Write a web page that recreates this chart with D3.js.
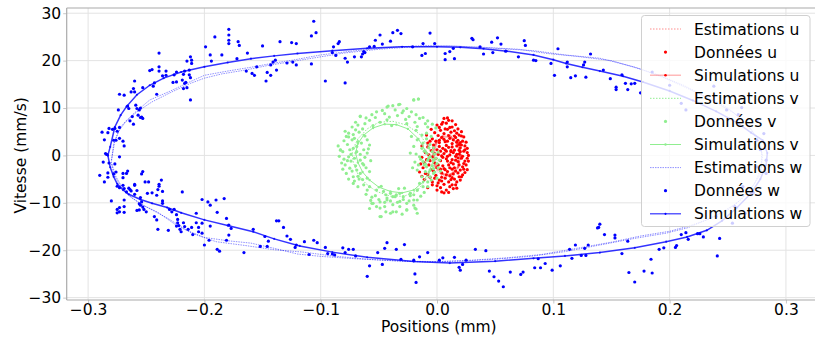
<!DOCTYPE html>
<html>
<head>
<meta charset="utf-8">
<script src="https://cdn.jsdelivr.net/npm/d3@7"></script>
<style>
  body { margin: 0; background: #fff; }
  svg { font-family: "DejaVu Sans", sans-serif; }
</style>
</head>
<body>
<div id="chart"></div>
<script>
// valeurs : [position (mm), vitesse (mm/s)]
const xTicks = [-0.3, -0.2, -0.1, 0.0, 0.1, 0.2, 0.3];
const yTicks = [-30, -20, -10, 0, 10, 20, 30];

const estU = [[0.021,0],[0.019,2.6],[0.013,4.3],[0.006,4.4],[-0.001,2.8],[-0.004,0.2],[-0.002,-2.6],[0.004,-4.3],[0.012,-4.4],[0.018,-2.7],[0.021,0]];
const simU = [[0.020,0],[0.018,2.4],[0.012,3.9],[0.005,4.0],[-0.001,2.5],[-0.003,0],[-0.001,-2.4],[0.005,-3.9],[0.012,-4.0],[0.018,-2.5],[0.020,0]];
const donU = [[0.006,7.8],[0.010,7.4],[0.013,7.3],[0.004,6.6],[0.013,6.0],[0.003,5.3],[0.019,4.3],[0.023,3.9],[0.000,6.4],[0.008,6.8],[0.016,6.5],[0.018,5.6],[0.009,5.5],[-0.002,4.8],[0.006,4.6],[0.012,4.9],[0.015,4.1],[0.021,5.0],[0.025,2.8],[0.027,0.0],[0.026,1.5],[0.024,-1.2],[0.022,3.0],[0.018,3.2],[0.011,3.6],[0.004,3.8],[-0.004,3.5],[-0.008,2.6],[-0.003,2.2],[0.002,2.7],[0.007,2.9],[0.013,2.5],[0.017,2.0],[0.020,1.6],[0.023,0.9],[0.019,0.3],[0.015,1.1],[0.010,1.7],[0.005,1.5],[0.000,1.2],[-0.005,1.0],[-0.010,0.6],[-0.013,-0.4],[-0.009,-0.9],[-0.004,-0.3],[0.001,0.2],[0.006,0.4],[0.011,0.1],[0.016,-0.2],[0.021,-0.6],[0.025,-2.0],[0.022,-2.4],[0.018,-1.3],[0.013,-0.9],[0.008,-0.7],[0.003,-1.1],[-0.002,-1.6],[-0.007,-2.0],[-0.012,-2.6],[-0.015,-3.5],[-0.010,-3.8],[-0.005,-3.0],[0.000,-2.6],[0.005,-2.2],[0.010,-2.0],[0.015,-2.6],[0.020,-3.1],[0.024,-3.6],[0.019,-4.5],[0.014,-3.9],[0.009,-3.4],[0.004,-3.7],[-0.001,-4.2],[-0.006,-4.6],[-0.011,-5.1],[-0.004,-5.6],[0.002,-5.2],[0.007,-4.8],[0.012,-5.1],[0.017,-5.6],[0.021,-4.5],[0.020,-5.2],[0.011,-6.6],[0.006,-6.1],[0.000,-6.4],[0.004,-7.7],[0.008,-7.3],[0.000,-7.3],[0.006,-7.9],[0.014,-7.0],[-0.008,-6.8],[0.016,-6.2],[0.009,-0.2],[0.014,0.6],[0.012,-1.5],[0.017,2.8],[0.008,2.1],[0.003,0.9],[-0.002,0.4],[0.021,2.2],[0.026,-0.6],[0.003,-2.9],[0.007,-3.0],[0.016,-3.3],[0.011,-4.3],[0.010,4.2],[0.014,3.3],[0.001,4.2],[-0.006,3.0],[0.019,1.1],[0.013,-2.9],[0.023,-2.9],[0.010,-5.6],[-0.003,-3.3],[0.005,-0.4],[0.018,-0.5],[-0.008,1.8],[0.015,5.2],[0.007,5.6],[0.001,-5.8],[0.024,2.0],[0.012,1.0],
  [0.002,3.2],[0.009,3.0],[0.016,3.8],[0.020,2.7],[0.024,1.2],[0.022,-0.2],[0.017,0.2],[0.012,0.8],[0.007,1.2],[0.002,1.9],[-0.003,1.6],[-0.007,0.1],[-0.011,-1.5],[-0.006,-1.1],[-0.001,-0.6],[0.004,-0.1],[0.009,-1.2],[0.014,-1.8],[0.019,-2.0],[0.023,-1.7],[0.027,-1.2],[0.026,0.6],[0.021,4.1],[0.017,4.7],[0.011,5.9],[0.005,7.0],[0.009,7.9],[0.002,5.9],[-0.005,5.5],[-0.009,4.3],[-0.013,2.0],[-0.014,-1.8],[-0.013,-4.4],[-0.008,-4.0],[-0.002,-4.8],[0.004,-4.6],[0.008,-4.1],[0.013,-4.7],[0.018,-3.7],[0.022,-4.1],[0.026,-3.0],[0.017,-6.9],[0.013,-6.2],[0.003,-6.8],[-0.004,-6.2],[0.010,-7.8],[0.004,-5.4],[0.015,-5.0],[0.006,-2.8],[0.001,-2.0],[0.011,-2.6],[0.016,-1.0],[0.020,0.8],[0.008,0.9],[0.013,1.8],[0.019,2.3],[0.006,3.4],[-0.001,3.0]];

const estV = [[-0.002,-0.5],[-0.008,2.0],[-0.015,4.5],[-0.026,6.4],[-0.038,7.2],[-0.050,7.0],[-0.060,5.6],[-0.068,3.5],[-0.073,1.0],[-0.072,-1.5],[-0.068,-4.0],[-0.061,-6.0],[-0.052,-7.6],[-0.040,-8.6],[-0.028,-8.6],[-0.017,-7.4],[-0.009,-5.0],[-0.004,-2.5],[-0.002,-0.5]];
const simV = [[-0.003,-1.0],[-0.010,1.0],[-0.016,3.5],[-0.025,5.6],[-0.035,6.5],[-0.045,6.6],[-0.055,5.8],[-0.063,4.3],[-0.068,2.5],[-0.070,0.5],[-0.068,-1.5],[-0.064,-3.5],[-0.058,-5.2],[-0.050,-6.7],[-0.040,-7.6],[-0.030,-7.9],[-0.020,-7.3],[-0.012,-5.6],[-0.007,-3.5],[-0.003,-1.0]];
const donV = [[-0.016,11.9],[-0.020,11.7],[-0.033,10.7],[-0.038,10.5],[-0.043,10.2],[-0.026,9.9],[-0.022,9.2],[-0.052,9.2],[-0.045,8.8],[-0.034,8.4],[-0.029,9.4],[-0.066,8.2],[-0.058,7.4],[-0.062,6.7],[-0.055,6.3],[-0.049,7.0],[-0.043,7.5],[-0.039,6.3],[-0.026,6.7],[-0.019,7.0],[-0.015,7.8],[-0.010,6.7],[-0.008,6.0],[-0.018,5.3],[-0.078,4.0],[-0.073,3.3],[-0.071,3.6],[-0.068,2.9],[-0.065,2.6],[-0.060,3.3],[-0.058,2.2],[-0.072,1.5],[-0.075,1.2],[-0.069,0.8],[-0.063,1.2],[-0.060,0.5],[-0.081,0.8],[-0.083,1.2],[-0.076,-0.3],[-0.071,-0.6],[-0.066,-1.0],[-0.079,-2.0],[-0.075,-2.7],[-0.069,-3.1],[-0.063,-2.0],[-0.078,-3.8],[-0.072,-4.5],[-0.066,-3.8],[-0.060,-4.8],[-0.058,-3.4],[-0.063,-6.2],[-0.058,-6.6],[-0.052,-7.3],[-0.046,-7.6],[-0.040,-8.0],[-0.035,-8.3],[-0.029,-8.7],[-0.023,-8.5],[-0.017,-7.3],[-0.015,-5.9],[-0.012,-6.6],[-0.055,-10.1],[-0.049,-11.1],[-0.045,-10.8],[-0.038,-10.4],[-0.032,-9.7],[-0.026,-10.1],[-0.020,-9.4],[-0.019,-11.1],[-0.049,-12.9],[-0.035,-11.9],[-0.026,-11.5],[-0.043,-9.0],[-0.036,-8.7],[-0.048,-12.9],[-0.058,-11.2],[-0.044,-11.9],[-0.017,-12.2],[-0.018,-11.3],[-0.006,-0.3],[-0.003,-1.0],[0.000,-1.7],[-0.009,-2.4],[-0.006,-3.1],[-0.012,-1.3],[-0.015,-0.3],[-0.010,-3.4],[-0.013,-4.5],[-0.006,-4.5],[-0.003,-3.8],[-0.017,-3.1],[-0.016,-2.0],[-0.009,0.5],[-0.013,1.5],[-0.012,2.6],[-0.017,3.3],[-0.020,1.9],[-0.023,0.5],[-0.009,4.7],[-0.005,4.0],[-0.013,4.3],[-0.017,6.1],[-0.022,4.0],[-0.020,11.7],[-0.016,11.9],[-0.032,10.8],[-0.042,10.4],[-0.066,8.3],[-0.076,3.9],[-0.083,1.1],[-0.072,-5.9],[-0.068,-6.6],[-0.060,-7.3],[-0.056,-10.1],[-0.052,-10.8],[-0.049,-9.8],[-0.043,-9.4],[-0.038,-8.7],[-0.032,-10.8],[-0.026,-11.5],[-0.020,-10.5],[-0.017,-9.4],[-0.038,-11.9],[-0.032,-8.0],[-0.023,-8.0],[-0.017,-7.3],[-0.070,5.4],[-0.074,-1.2],[-0.067,-5.0],[-0.004,-2.2],[-0.008,-1.0],[-0.002,0.3],[-0.011,-2.0],[-0.007,1.6],
  [-0.030,9.0],[-0.036,9.6],[-0.047,9.5],[-0.056,8.6],[-0.061,7.9],[-0.070,7.0],[-0.073,6.0],[-0.068,6.4],[-0.064,5.6],[-0.024,8.2],[-0.018,8.6],[-0.012,8.0],[-0.008,7.3],[-0.004,6.6],[-0.001,5.8],[-0.027,7.6],[-0.041,8.1],[-0.053,8.0],
  [-0.077,2.3],[-0.080,-0.8],[-0.082,-1.6],[-0.077,-1.1],[-0.074,0.2],[-0.079,5.1],[-0.076,4.7],[-0.072,4.4],[-0.067,4.9],[-0.062,4.1],[-0.066,0.2],[-0.062,-0.4],[-0.064,-1.7],[-0.070,-2.2],[-0.073,-3.3],[-0.076,-5.0],[-0.071,-5.4],[-0.068,-4.4],[-0.064,-5.1],[-0.081,-2.9],[-0.084,-0.2],[-0.085,2.0],[-0.080,3.1],[-0.069,1.9],[-0.059,1.4],[-0.057,-1.1],[-0.061,-2.6],
  [-0.061,-8.2],[-0.056,-8.8],[-0.050,-9.3],[-0.045,-9.9],[-0.040,-9.6],[-0.034,-9.9],[-0.029,-9.3],[-0.024,-9.6],[-0.020,-8.3],[-0.014,-8.6],[-0.011,-7.8],[-0.008,-6.6],[-0.044,-8.3],[-0.053,-8.5],[-0.057,-9.5],[-0.040,-12.2],[-0.030,-12.4],[-0.028,-6.9],[-0.033,-7.0],[-0.048,-6.5],
  [-0.004,0.8],[-0.001,-0.6],[0.002,-1.0],[0.001,-2.6],[-0.003,-2.8],[-0.007,-0.5],[-0.010,-1.8],[-0.002,-3.5],[0.003,-3.3],[-0.005,-5.2],[-0.008,-5.6],[0.000,-4.8],[-0.011,0.9],[-0.006,2.3],[-0.003,1.6],[0.001,0.7],[-0.009,3.5],[-0.014,-0.8],[-0.019,-1.4],[-0.021,-2.6],[-0.018,0.3]];

const estW = [[-0.280,-1.0],[-0.277,3.0],[-0.272,6.0],[-0.267,7.4],[-0.260,9.0],[-0.247,11.7],[-0.230,13.5],[-0.210,15.8],[-0.200,16.9],[-0.180,17.8],[-0.160,18.6],[-0.140,19.5],[-0.124,20.1],[-0.100,21.2],[-0.070,22.1],[-0.040,22.8],[-0.010,23.2],[0.020,23.0],[0.050,22.6],[0.083,22.1],[0.110,21.2],[0.140,20.5],[0.169,18.7],[0.190,17.0],[0.212,14.8],[0.230,12.5],[0.250,10.0],[0.265,7.0],[0.275,4.0],[0.280,0.0],[0.278,-4.0],[0.270,-7.0],[0.258,-10.0],[0.245,-12.0],[0.230,-13.8],[0.215,-15.3],[0.197,-16.4],[0.170,-17.5],[0.140,-18.9],[0.110,-20.3],[0.080,-21.3],[0.050,-21.9],[0.020,-22.3],[-0.010,-22.5],[-0.040,-22.2],[-0.070,-21.8],[-0.100,-21.3],[-0.120,-20.8],[-0.140,-19.6],[-0.160,-18.5],[-0.180,-18.0],[-0.200,-17.3],[-0.215,-15.8],[-0.232,-13.2],[-0.245,-11.5],[-0.255,-10.2],[-0.265,-8.5],[-0.272,-6.5],[-0.278,-4.0],[-0.280,-1.5],
  [-0.278,2.5],[-0.274,5.0],[-0.268,7.0],[-0.258,9.2],[-0.245,11.3],[-0.228,13.4],[-0.212,15.2],[-0.200,16.3],[-0.185,17.2],[-0.165,18.0],[-0.145,19.0],[-0.125,19.8],[-0.105,20.6],[-0.080,21.6],[-0.050,22.4],[-0.020,22.9],[0.010,23.1],[0.040,22.8],[0.070,22.4],[0.095,21.5],[0.120,20.9],[0.150,20.0],[0.175,18.2],[0.195,16.4],[0.215,14.2],[0.235,11.8],[0.255,9.0],[0.270,5.5],[0.279,1.5],[0.279,-2.5],[0.273,-6.0],[0.262,-9.2],[0.250,-11.5],[0.235,-13.3],[0.218,-14.8],[0.200,-16.0],[0.175,-17.0],[0.150,-18.3],[0.120,-19.6],[0.090,-20.9],[0.060,-21.6],[0.030,-22.1],[0.000,-22.4],[-0.030,-22.3],[-0.060,-21.9],[-0.090,-21.2],[-0.115,-20.4],[-0.140,-19.9],[-0.165,-19.0],[-0.190,-18.2],[-0.210,-16.5],[-0.225,-14.6],[-0.240,-12.0],[-0.252,-10.6],[-0.262,-9.0],[-0.270,-7.0],[-0.276,-4.5],[-0.280,-1.5]];

const simW = [[-0.283,0.0],[-0.281,1.8],[-0.277,6.0],[-0.272,8.5],[-0.267,10.3],[-0.258,12.8],[-0.247,14.8],[-0.235,16.3],[-0.220,17.6],[-0.200,18.7],[-0.180,19.6],[-0.160,20.4],[-0.140,21.0],[-0.120,21.5],[-0.090,22.1],[-0.060,22.6],[-0.030,22.9],[0.000,22.9],[0.020,22.8],[0.040,22.5],[0.060,22.0],[0.083,21.2],[0.100,20.2],[0.111,19.4],[0.125,18.6],[0.140,17.8],[0.160,16.7],[0.177,15.5],[0.200,13.6],[0.220,11.6],[0.240,9.3],[0.258,6.9],[0.270,4.8],[0.280,3.2],[0.284,0.5],[0.283,-2.0],[0.278,-5.0],[0.270,-8.0],[0.258,-11.0],[0.245,-13.8],[0.232,-15.8],[0.215,-17.2],[0.197,-18.2],[0.170,-19.5],[0.140,-20.5],[0.110,-21.2],[0.083,-21.7],[0.050,-22.3],[0.011,-22.7],[-0.020,-22.4],[-0.060,-21.5],[-0.090,-20.4],[-0.118,-19.1],[-0.140,-17.6],[-0.158,-16.1],[-0.180,-14.8],[-0.200,-13.6],[-0.220,-12.1],[-0.232,-11.0],[-0.245,-10.1],[-0.255,-9.3],[-0.265,-8.2],[-0.270,-7.3],[-0.275,-6.0],[-0.278,-4.5],[-0.281,-2.5],[-0.283,0.0]];

const donW = [[-0.179,26.6],[-0.179,25.4],[-0.179,24.3],[-0.179,23.6],[-0.191,25.0],[-0.199,22.9],[-0.195,21.2],[-0.194,19.9],[-0.185,21.2],[-0.172,20.4],[-0.171,24.0],[-0.170,23.2],[-0.163,21.6],[-0.164,17.8],[-0.159,17.3],[-0.157,16.9],[-0.155,18.7],[-0.150,23.1],[-0.147,15.7],[-0.146,17.5],[-0.143,16.9],[-0.143,19.1],[-0.141,19.7],[-0.139,20.1],[-0.138,18.0],[-0.135,24.0],[-0.129,19.5],[-0.125,23.8],[-0.121,23.6],[-0.124,19.7],[-0.121,19.1],
  [-0.212,11.7],[-0.212,16.4],[-0.215,14.3],[-0.218,14.1],[-0.217,15.2],[-0.216,15.4],[-0.213,17.0],[-0.213,18.0],[-0.211,19.4],[-0.211,20.1],[-0.215,19.9],[-0.212,20.8],[-0.224,17.6],[-0.224,15.5],[-0.227,15.4],[-0.219,15.9],[-0.218,17.1],[-0.217,17.8],[-0.226,17.0],[-0.233,16.9],[-0.233,17.8],[-0.236,16.8],[-0.239,18.7],[-0.239,21.6],[-0.239,17.8],[-0.241,12.9],[-0.243,15.3],[-0.245,18.1],[-0.247,17.9],[-0.244,14.6],[-0.253,14.3],[-0.254,8.1],[-0.253,7.8],[-0.255,8.0],[-0.257,8.5],[-0.255,10.0],[-0.259,10.6],[-0.256,9.6],[-0.258,9.9],[-0.260,15.7],[-0.261,14.1],[-0.260,13.4],[-0.263,13.4],[-0.266,10.4],[-0.265,9.9],[-0.262,8.2],[-0.261,6.6],[-0.264,7.3],[-0.269,12.7],[-0.273,12.9],[-0.274,9.6],[-0.277,5.7],[-0.273,5.9],[-0.275,5.1],[-0.279,5.5],[-0.282,5.7],[-0.283,4.8],[-0.288,4.9],[-0.278,3.2],[-0.276,3.2],[-0.273,3.6],[-0.270,3.0],[-0.269,2.0],[-0.286,3.3],[-0.285,0.4],[-0.284,0.2],[-0.282,-1.6],[-0.273,-0.3],[-0.287,-1.4],[-0.277,-1.8],
  [-0.290,-4.2],[-0.286,-5.6],[-0.283,-4.6],[-0.283,-3.7],[-0.278,-3.9],[-0.276,-3.5],[-0.270,-3.8],[-0.270,-4.7],[-0.267,-3.8],[-0.266,-3.3],[-0.275,-6.5],[-0.273,-6.8],[-0.270,-6.3],[-0.269,-7.0],[-0.265,-6.9],[-0.264,-7.2],[-0.267,-7.7],[-0.263,-7.5],[-0.260,-8.2],[-0.260,-6.1],[-0.260,-6.3],[-0.258,-7.4],[-0.255,-8.9],[-0.253,-3.4],[-0.254,-3.9],[-0.251,-5.6],[-0.248,-5.6],[-0.254,-9.8],[-0.256,-10.2],[-0.255,-10.5],[-0.280,-9.6],[-0.275,-11.4],[-0.273,-11.0],[-0.269,-12.0],[-0.269,-10.8],[-0.269,-9.4],[-0.273,-11.9],[-0.275,-12.1],[-0.258,-11.6],[-0.256,-11.5],[-0.253,-10.9],[-0.252,-11.4],[-0.250,-11.9],[-0.249,-8.0],[-0.245,-7.9],[-0.241,-8.4],[-0.240,-7.2],[-0.239,-6.5],[-0.239,-6.1],[-0.237,-5.2],[-0.236,-7.6],[-0.236,-9.6],[-0.236,-10.1],[-0.243,-12.9],[-0.241,-13.6],[-0.240,-15.6],[-0.231,-15.8],[-0.230,-11.4],[-0.228,-11.9],[-0.226,-11.4],[-0.224,-12.5],[-0.223,-13.5],[-0.223,-14.2],[-0.224,-14.9],[-0.222,-14.8],[-0.221,-15.6],[-0.220,-16.1],[-0.219,-7.7],[-0.218,-14.2],[-0.217,-15.0],[-0.214,-15.6],[-0.211,-15.2],[-0.210,-16.7],[-0.207,-12.2],[-0.207,-14.2],[-0.205,-15.2],[-0.205,-16.1],[-0.202,-14.3],[-0.202,-9.3],[-0.202,-16.4],[-0.200,-18.9],[-0.197,-9.8],[-0.196,-17.9],[-0.195,-10.5],[-0.195,-14.9],[-0.190,-9.4],[-0.189,-19.8],[-0.189,-12.0],[-0.187,-20.2],[-0.183,-9.1],[-0.181,-13.3],[-0.179,-14.7],[-0.179,-16.8],[-0.177,-15.4],[-0.181,-17.9],[-0.166,-20.5],[-0.158,-15.6],[-0.152,-19.2],[-0.148,-17.1],[-0.146,-19.2],[-0.145,-18.1],[-0.138,-13.8],[-0.136,-13.8],[-0.132,-15.2],[-0.129,-17.0],[-0.126,-17.7],[-0.121,-18.9],[-0.122,-19.4],
  [-0.106,28.3],[-0.108,25.2],[-0.104,25.9],[-0.108,19.3],[-0.096,15.7],[-0.079,15.3],[-0.089,22.9],[-0.090,21.7],[-0.087,21.1],[-0.085,23.6],[-0.084,24.0],[-0.079,20.5],[-0.077,19.7],[-0.071,20.8],[-0.065,20.8],[-0.063,21.9],[-0.064,21.4],[-0.062,21.7],[-0.058,22.9],[-0.054,23.0],[-0.053,24.3],[-0.049,25.4],[-0.047,23.5],[-0.040,24.1],[-0.038,25.9],[-0.034,26.4],[-0.031,25.7],[-0.021,22.9],[-0.013,21.1],[-0.010,21.5],[-0.012,23.6],[-0.006,25.8],[-0.002,23.6],[0.007,21.5],[0.011,21.9],[0.007,20.2],[0.015,20.4],[0.014,22.6],[0.030,24.7],[0.031,24.4],[0.037,22.9],[0.040,21.4],[0.047,23.9],[0.048,21.7],[0.052,24.8],[0.055,23.5],[0.059,22.0],[0.070,20.8],[0.075,24.2],[0.076,23.2],[0.083,20.1],[0.085,20.0],[0.098,19.4],[0.101,16.9],[0.104,22.5],[0.112,18.7],[0.112,19.7],[0.115,16.4],[0.119,16.8],[0.126,19.1],[0.127,19.7],[0.128,16.5],[0.132,21.4],
  [0.143,18.0],[0.149,16.2],[0.154,14.4],[0.154,13.9],[0.159,17.0],[0.162,15.2],[0.164,13.9],[0.167,15.1],[0.170,15.2],[0.175,13.2],[0.185,17.6],[0.200,14.8],[0.210,11.0],[0.214,9.6],[0.238,14.6],[0.249,9.6],[0.259,8.6],[0.262,10.1],[0.275,7.4],[0.281,4.6],[0.275,3.2],[0.278,1.2],[0.283,-1.0],[0.275,-2.4],[0.283,-3.8],[0.263,-6.6],[0.272,-7.9],[0.256,-10.8],[0.265,-12.2],[0.240,-12.9],[0.254,-14.3],[0.226,-16.5],
  [0.140,-14.5],[0.144,-16.7],[0.153,-16.8],[0.153,-17.4],[0.164,-18.1],[0.159,-20.7],[0.165,-24.7],[0.170,-26.7],[0.178,-24.4],[0.185,-24.8],[0.184,-21.9],[0.191,-19.8],[0.195,-19.5],[0.205,-19.4],[0.206,-19.0],[0.210,-16.7],[0.214,-16.3],[0.216,-17.7],[0.224,-16.5],[0.229,-17.2],[0.241,-21.2],[0.243,-17.5],
  [-0.114,-18.2],[-0.106,-17.9],[-0.103,-18.4],[-0.110,-20.9],[-0.096,-19.4],[-0.094,-20.7],[-0.090,-20.8],[-0.088,-21.0],[-0.081,-19.5],[-0.076,-19.8],[-0.072,-19.8],[-0.079,-20.5],[-0.070,-21.2],[-0.060,-25.5],[-0.058,-23.3],[-0.051,-20.5],[-0.047,-23.0],[-0.045,-19.6],[-0.043,-18.4],[-0.035,-19.8],[-0.031,-21.9],[-0.028,-18.8],[-0.020,-22.1],[-0.019,-25.0],[-0.018,-26.8],[-0.015,-21.4],[-0.008,-20.5],[0.002,-22.1],[0.005,-21.6],[0.015,-21.5],[0.019,-23.6],[0.020,-24.2],[0.022,-23.0],[0.025,-22.1],[0.033,-19.8],[0.042,-20.1],[0.045,-24.4],[0.049,-25.6],[0.053,-26.5],[0.057,-27.7],[0.063,-24.6],[0.072,-25.1],[0.074,-24.6],[0.084,-23.7],[0.087,-21.8],[0.089,-23.7],[0.093,-22.8],[0.099,-24.2],[0.106,-23.3],[0.114,-19.8],[0.116,-21.7],[0.119,-18.9],[0.124,-21.1],[0.127,-19.6],[0.128,-21.1],[0.130,-18.9],[0.138,-15.3],[0.139,-15.2]];

const legendLabels = ["Estimations u", "Données u", "Simulations u",
                      "Estimations v", "Données v", "Simulations v",
                      "Estimations w", "Données w", "Simulations w"];

// --- mise en page
var width = 815, height = 338;
var plot = { left: 66.7, right: 815, top: 8, bottom: 300 };

var svg = d3.select("#chart").append("svg")
  .attr("width", width)
  .attr("height", height);

var x = d3.scaleLinear().domain([-0.3184, 0.325]).range([plot.left, plot.right]);
var y = d3.scaleLinear().domain([-30.5, 31.1]).range([plot.bottom, plot.top]);

// grille
svg.append("g").selectAll("line").data(xTicks).enter().append("line")
  .attr("x1", d => x(d)).attr("x2", d => x(d))
  .attr("y1", plot.top).attr("y2", plot.bottom)
  .attr("stroke", "#e3e3e3").attr("stroke-width", 1);
svg.append("g").selectAll("line").data(yTicks).enter().append("line")
  .attr("x1", plot.left).attr("x2", plot.right)
  .attr("y1", d => y(d)).attr("y2", d => y(d))
  .attr("stroke", "#e3e3e3").attr("stroke-width", 1);

// axes
var xAxis = svg.append("g")
  .attr("transform", "translate(0," + plot.bottom + ")")
  .call(d3.axisBottom(x).tickValues(xTicks).tickFormat(d3.format(".1f")).tickSize(3.5).tickPadding(0));
var yAxis = svg.append("g")
  .attr("transform", "translate(" + plot.left + ",0)")
  .call(d3.axisLeft(y).tickValues(yTicks).tickSize(3.5).tickPadding(2));
[xAxis, yAxis].forEach(function(a) {
  a.select(".domain").remove();
  a.selectAll(".tick line").attr("stroke", "#c8c8c8");
  a.selectAll(".tick text").attr("fill", "#000")
    .style("font-size", "15.5px").style("font-family", "DejaVu Sans");
});

// cadres
svg.append("line").attr("x1", plot.left).attr("x2", plot.right).attr("y1", plot.top).attr("y2", plot.top)
  .attr("stroke", "#aaaaaa").attr("stroke-width", 1.2);
svg.append("line").attr("x1", plot.left).attr("x2", plot.right).attr("y1", plot.bottom).attr("y2", plot.bottom)
  .attr("stroke", "#aaaaaa").attr("stroke-width", 1.2);
svg.append("line").attr("x1", plot.left).attr("x2", plot.left).attr("y1", plot.top).attr("y2", plot.bottom)
  .attr("stroke", "#aaaaaa").attr("stroke-width", 1.2);

// titres d'axes
svg.append("text")
  .attr("x", (plot.left + plot.right) / 2 - 2)
  .attr("y", 331.5)
  .attr("text-anchor", "middle")
  .style("font-size", "15.5px")
  .text("Positions (mm)");
svg.append("text")
  .attr("transform", "translate(26," + y(0) + ") rotate(-90)")
  .attr("text-anchor", "middle")
  .style("font-size", "15.5px")
  .text("Vitesse (mm/s)");

// tracés
var g = svg.append("g");
var line = d3.line().x(d => x(d[0])).y(d => y(d[1]));

var styles = {
  estU: { color: "red", opacity: 0.45, width: 1, dash: "1.5,1.5" },
  simU: { color: "red", opacity: 0.35, width: 2, dash: null, marker: 1.3 },
  estV: { color: "lightgreen", opacity: 1, width: 1, dash: "1.5,1.5" },
  simV: { color: "lightgreen", opacity: 1, width: 1, dash: null, marker: 1.2 },
  estW: { color: "blue", opacity: 0.55, width: 0.8, dash: "1.5,1" },
  simW: { color: "blue", opacity: 0.8, width: 1.5, dash: null, marker: 1.1 }
};

function drawLine(data, s) {
  g.append("path").datum(data)
    .attr("d", line)
    .attr("fill", "none")
    .attr("stroke", s.color)
    .attr("stroke-opacity", s.opacity)
    .attr("stroke-width", s.width)
    .attr("stroke-dasharray", s.dash);
  if (s.marker) {
    g.append("g").selectAll("circle").data(data).enter().append("circle")
      .attr("cx", d => x(d[0])).attr("cy", d => y(d[1]))
      .attr("r", s.marker)
      .attr("fill", s.color).attr("fill-opacity", s.opacity);
  }
}
function drawPoints(data, color) {
  g.append("g").selectAll("circle").data(data).enter().append("circle")
    .attr("cx", d => x(d[0])).attr("cy", d => y(d[1]))
    .attr("r", 1.6)
    .attr("fill", color);
}

drawLine(estU, styles.estU);
drawPoints(donU, "#ff0000");
drawLine(simU, styles.simU);
drawLine(estV, styles.estV);
drawPoints(donV, "#90ee90");
drawLine(simV, styles.simV);
drawLine(estW, styles.estW);
drawPoints(donW, "#0000ff");
drawLine(simW, styles.simW);

// légende
var leg = svg.append("g");
leg.append("rect")
  .attr("x", 641.5).attr("y", 15.5)
  .attr("width", 168.5).attr("height", 211)
  .attr("rx", 3)
  .attr("fill", "#fff").attr("fill-opacity", 0.8)
  .attr("stroke", "#d0d0d0");

var legendKinds = [
  { s: styles.estU }, { pt: "#ff0000" }, { s: styles.simU, pt: "#ff0000" },
  { s: styles.estV }, { pt: "#90ee90" }, { s: styles.simV, pt: "#90ee90" },
  { s: styles.estW }, { pt: "#0000ff" }, { s: styles.simW, pt: "#0000ff" }
];

legendLabels.forEach(function(lab, i) {
  var cy = 29 + i * 23.1;
  var k = legendKinds[i];
  if (k.s) {
    leg.append("line")
      .attr("x1", 650).attr("x2", 681).attr("y1", cy).attr("y2", cy)
      .attr("stroke", k.s.color)
      .attr("stroke-opacity", k.s.opacity)
      .attr("stroke-width", Math.min(k.s.width, 1.2))
      .attr("stroke-dasharray", k.s.dash);
  }
  if (k.pt) {
    leg.append("circle").attr("cx", 665.5).attr("cy", cy)
      .attr("r", k.s ? (k.s.marker || 1.2) : 1.6)
      .attr("fill", k.pt);
  }
  leg.append("text")
    .attr("x", 694).attr("y", cy + 5.5)
    .style("font-size", "15.5px")
    .text(lab);
});
</script>
</body>
</html>
